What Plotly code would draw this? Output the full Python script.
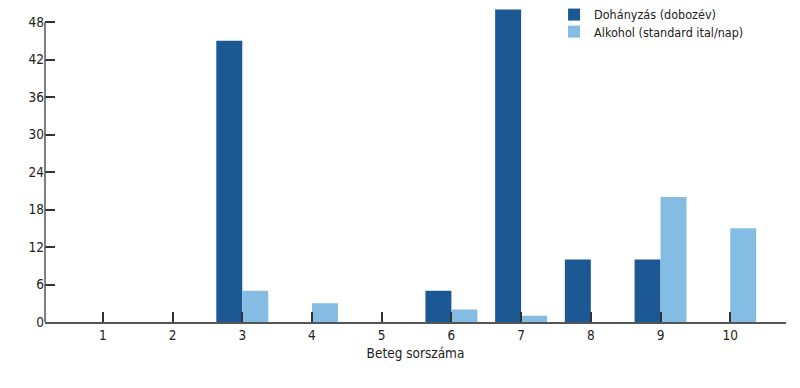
import plotly.graph_objects as go

categories = [1, 2, 3, 4, 5, 6, 7, 8, 9, 10]
dohanyzas = [0, 0, 45, 0, 0, 5, 50, 10, 10, 0]
alkohol = [0, 0, 5, 3, 0, 2, 1, 0, 20, 15]
y_ticks = [0, 6, 12, 18, 24, 30, 36, 42, 48]

FONT = "DejaVu Sans Condensed, Liberation Sans Narrow, Roboto Condensed, Roboto, sans-serif"

fig = go.Figure()
fig.add_trace(go.Bar(x=categories, y=dohanyzas, name="Dohányzás (dobozév)",
                     marker=dict(color="#1c5893", line=dict(width=0)), legend="legend"))
fig.add_trace(go.Bar(x=categories, y=alkohol, name="Alkohol (standard ital/nap)",
                     marker=dict(color="#85bce3", line=dict(width=0)), legend="legend2"))

leg_common = dict(xanchor="left", yanchor="middle", font=dict(size=12.5, color="#222"),
                  bgcolor="rgba(0,0,0,0)", itemwidth=30)

fig.update_layout(
    width=800, height=388,
    margin=dict(l=37, r=22, t=1, b=74, autoexpand=False),
    paper_bgcolor="white", plot_bgcolor="white",
    barmode="group", bargap=0.255, bargroupgap=0,
    font=dict(family=FONT, size=13.5, color="#222"),
    showlegend=True,
    legend=dict(x=0.687, y=0.981, **leg_common),
    legend2=dict(x=0.687, y=0.9265, **leg_common),
    xaxis=dict(range=[0.17, 10.8], tickvals=categories, ticktext=[str(c) for c in categories],
               showline=True, linecolor="#555", linewidth=1.5, showgrid=False, zeroline=False,
               ticks="inside", ticklen=10, tickcolor="#333", tickwidth=1.5, automargin=False,
               title=dict(text="Beteg sorszáma", font=dict(size=13.5), standoff=7),
               tickfont=dict(size=13.5)),
    yaxis=dict(range=[0, 50.1], tickvals=y_ticks, showline=False, showgrid=False, zeroline=False,
               ticks="inside", ticklen=10, tickcolor="#333", tickwidth=1.5, automargin=False,
               tickfont=dict(size=13.5)),
)
fig.add_shape(type="line", xref="paper", yref="y", x0=0, x1=0, y0=0, y1=48,
              line=dict(color="#555", width=1.5))

fig.write_html("out.html")
